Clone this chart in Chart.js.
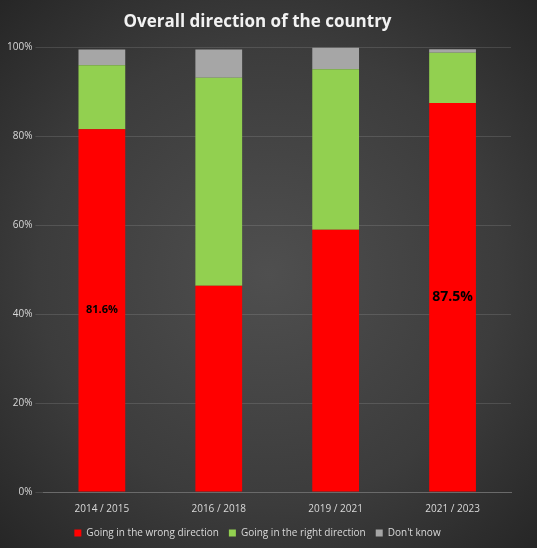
<!DOCTYPE html>
<html><head>
<script src="https://cdn.jsdelivr.net/npm/chart.js@4"></script>
<style>
  html, body { margin: 0; padding: 0; }
  body { width: 537px; height: 548px; background: radial-gradient(circle at 50% 50%, #4f4f4f 0%, #3c3c3c 60%, #262626 100%); }
  #wrap { width: 537px; height: 548px; }
</style>
</head><body>
<div id="wrap"><canvas id="c"></canvas></div>
<script>
const periods = ["2014 / 2015", "2016 / 2018", "2019 / 2021", "2021 / 2023"];
const wrongDirection = [81.6, 46.4, 59.0, 87.5];
const rightDirection = [14.4, 46.8, 36.1, 11.3];
const dontKnow = [3.5, 6.3, 4.9, 0.8];
const shownLabels = ["81.6%", null, null, "87.5%"];

const labelPlugin = {
  id: "bar_labels",
  afterDatasetsDraw: (chart) => {
    const ctx = chart.ctx;
    const meta = chart.getDatasetMeta(0);
    ctx.save();
    ctx.fillStyle = "#000";
    ctx.textAlign = "center";
    ctx.textBaseline = "middle";
    meta.data.forEach((bar, i) => {
      if (!shownLabels[i]) return;
      const y = (bar.y + bar.base) / 2;
      ctx.font = i === 3 ? "bold 14px 'Open Sans', sans-serif" : "bold 11px 'Open Sans', sans-serif";
      ctx.fillText(shownLabels[i], bar.x, y);
    });
    ctx.restore();
  },
};

new Chart(document.getElementById("c"), {
  type: "bar",
  plugins: [labelPlugin],
  data: {
    labels: periods,
    datasets: [
      { label: "Going in the wrong direction", data: wrongDirection, backgroundColor: "#ff0000" },
      { label: "Going in the right direction", data: rightDirection, backgroundColor: "#92d050" },
      { label: "Don't know", data: dontKnow, backgroundColor: "#a6a6a6" },
    ],
  },
  options: {
    responsive: true,
    maintainAspectRatio: false,
    animation: false,
    layout: { padding: { left: 4, right: 26, top: 8, bottom: 0 } },
    datasets: { bar: { barPercentage: 0.4, categoryPercentage: 1 } },
    plugins: {
      title: {
        display: true,
        text: "Overall direction of the country",
        color: "#f2f2f2",
        font: { family: "'Open Sans', sans-serif", size: 17, weight: "bold" },
        padding: { top: 4, bottom: 15 },
      },
      legend: {
        position: "bottom",
        labels: { color: "#d9d9d9", boxWidth: 7, boxHeight: 7, font: { family: "'Open Sans', sans-serif", size: 10 }, padding: 10 },
      },
      tooltip: { enabled: false },
    },
    scales: {
      x: {
        stacked: true,
        grid: { display: false },
        border: { color: "#6a6a6a" },
        ticks: { color: "#d9d9d9", font: { family: "'Open Sans', sans-serif", size: 10 } },
      },
      y: {
        stacked: true,
        min: 0,
        max: 100,
        ticks: { stepSize: 20, color: "#d9d9d9", font: { family: "'Open Sans', sans-serif", size: 10 }, callback: (v) => v + "%" },
        grid: { color: "rgba(255,255,255,0.12)" },
        border: { display: false },
      },
    },
  },
});
</script>
</body></html>
